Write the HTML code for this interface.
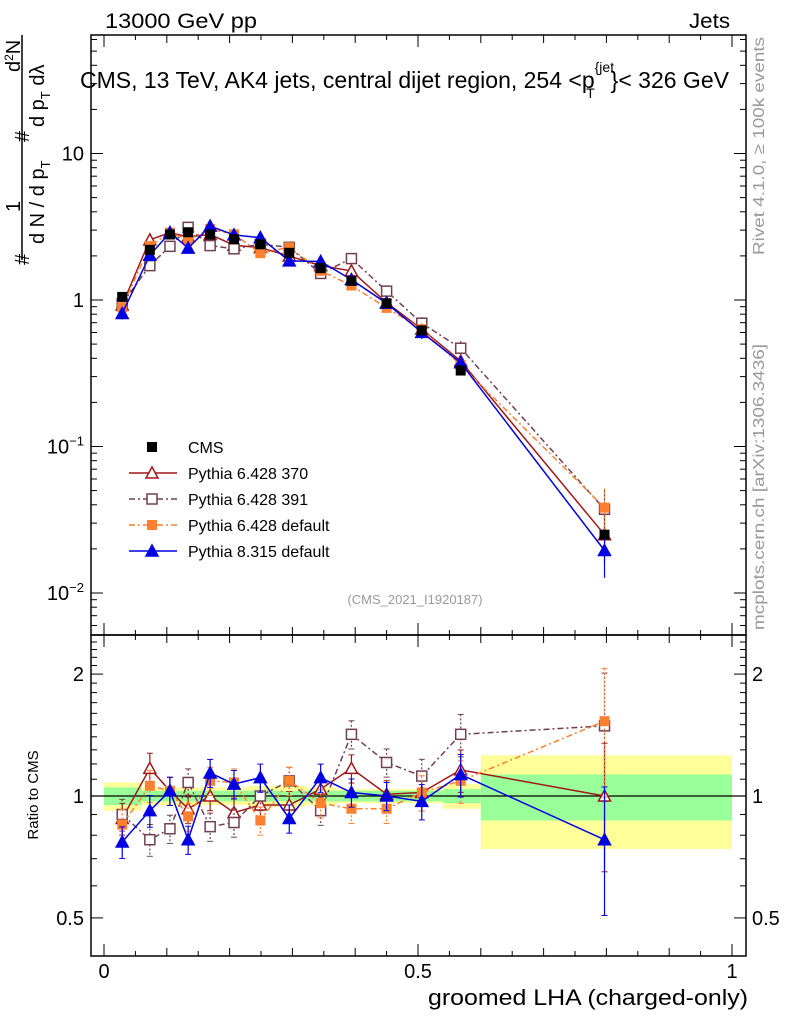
<!DOCTYPE html>
<html><head><meta charset="utf-8"><style>
body{margin:0;background:#fff;}
svg{display:block;font-family:"Liberation Sans",Arial,sans-serif;}
</style></head><body>
<svg id="chart" width="786" height="1024" viewBox="0 0 786 1024" xmlns="http://www.w3.org/2000/svg"></svg>
<script>
// ---- data ----
const binEdges = [0,0.06,0.09,0.12,0.15,0.19,0.23,0.27,0.32,0.37,0.42,0.48,0.54,0.6,1.0];
const binCenters = [0.029,0.073,0.105,0.134,0.169,0.207,0.249,0.295,0.345,0.394,0.45,0.506,0.568,0.797];
const cmsValues = [1.05,2.2,2.8,2.9,2.8,2.6,2.4,2.1,1.65,1.35,0.95,0.62,0.33,0.025];
const bandInner = [0.05,0.03,0.03,0.03,0.03,0.03,0.03,0.03,0.03,0.03,0.03,0.03,0.04,0.13];
const bandOuter = [0.08,0.05,0.05,0.05,0.05,0.05,0.06,0.06,0.05,0.04,0.04,0.04,0.07,0.26];
const ratio370 = [0.88,1.17,1.03,0.93,1.0,0.91,0.95,0.95,1.04,1.17,1.01,1.02,1.16,1.0];
const ratio391 = [0.9,0.78,0.83,1.08,0.84,0.86,1.0,1.09,0.92,1.42,1.21,1.12,1.42,1.49];
const ratioP6 = [0.85,1.06,1.03,0.89,1.09,1.08,0.87,1.09,0.96,0.93,0.93,1.02,1.09,1.53];
const ratioP8 = [0.77,0.92,1.03,0.78,1.14,1.07,1.11,0.88,1.11,1.02,1.0,0.97,1.13,0.78];
const ratioErr = [0.09,0.09,0.08,0.08,0.08,0.08,0.08,0.08,0.08,0.08,0.08,0.1,0.12,0.35];
const xTicks = [0,0.5,1];
const xTickLabels = ["0","0.5","1"];
const ratioTicks = [0.5,1,2];
const ratioTickLabels = ["0.5","1","2"];

// ---- axes ----
const X0=104, X1=732;
const xs = v => X0 + (X1-X0)*v;
const ym = v => 300 - 146.5*Math.log10(v);
const yr = v => 796 - 405*Math.log10(v);
const NS="http://www.w3.org/2000/svg";
const svg=document.getElementById('chart');
function mk(tag, attrs, parent){const e=document.createElementNS(NS,tag);for(const k in attrs)e.setAttribute(k,attrs[k]);(parent||svg).appendChild(e);return e;}

const series=[
 {key:'p370',r:ratio370,color:'#a01818',dash:'',marker:'tri-open',name:'pythia-6-428-370'},
 {key:'p391',r:ratio391,color:'#704050',dash:'6,3,2,3',marker:'sq-open',name:'pythia-6-428-391'},
 {key:'p6',r:ratioP6,color:'#ff8030',dash:'6,3,2,3',marker:'sq-fill',name:'pythia-6-428-default'},
 {key:'p8',r:ratioP8,color:'#0000e0',dash:'',marker:'tri-fill',name:'pythia-8-315-default'}
];

function marker(kind,x,y,color,g){
 let e;
 if(kind==='tri-open'||kind==='tri-fill'){
  e=mk('polygon',{points:`${x},${y-6} ${x-6},${y+5} ${x+6},${y+5}`,fill:kind==='tri-fill'?color:'#fff','stroke':color,'stroke-width':1.5},g);
 } else if(kind==='sq-open'){
  e=mk('rect',{x:x-5,y:y-5,width:10,height:10,fill:'#fff',stroke:color,'stroke-width':1.5},g);
 } else if(kind==='sq-fill'){
  e=mk('rect',{x:x-5,y:y-5,width:10,height:10,fill:color},g);
 } else {
  e=mk('rect',{x:x-5,y:y-5,width:10,height:10,fill:'#000'},g);
 }
 return e;
}

// ---- main panel ----
const frameMain=mk('rect',{x:91,y:35,width:655,height:600,fill:'none',stroke:'#000','stroke-width':1.5});


for(let d=-3;d<=1;d++){for(let m=1;m<10;m++){const v=m*Math.pow(10,d);const y=ym(v);if(y<35||y>635)continue;const L=m===1?12:6;
 mk('line',{x1:91,x2:91+L,y1:y,y2:y,stroke:'#000'});mk('line',{x1:746-L,x2:746,y1:y,y2:y,stroke:'#000'});}}
const mainLabels=[[10,'10'],[1,'1']];
mainLabels.forEach(([v,t])=>{const e=mk('text',{x:84,y:ym(v)+7,'text-anchor':'end','font-size':20});e.textContent=t;
 });
[[0.1,'-1'],[0.01,'-2']].forEach(([v,p])=>{const e=mk('text',{x:84,y:ym(v)+7,'text-anchor':'end','font-size':20});
 e.innerHTML='10<tspan dy="-8" font-size="13">−'+p.slice(1)+'</tspan>';
 });
function xTickMarks(top,bot){for(let i=0;i<=20;i++){const v=i/20;const x=xs(v);const L=(i%10===0)?12:(i%2===0?8:5);
 mk('line',{x1:x,x2:x,y1:bot,y2:bot-L,stroke:'#000'});mk('line',{x1:x,x2:x,y1:top,y2:top+L,stroke:'#000'});}}
xTickMarks(35,635);

series.forEach(s=>{
 const g=mk('g',{});
 
 
 const vals=s.r.map((r,i)=>r*cmsValues[i]);
 const pts=vals.map((v,i)=>xs(binCenters[i])+','+ym(v)).join(' ');
 mk('polyline',{points:pts,fill:'none',stroke:s.color,'stroke-width':1.5,'stroke-dasharray':s.dash},g);
 vals.forEach((v,i)=>{const x=xs(binCenters[i]);const e=ratioErr[i]*v;
  mk('line',{x1:x,x2:x,y1:ym(v+e),y2:ym(Math.max(v-e,v*0.3)),stroke:s.color,'stroke-width':1.2,'stroke-dasharray':s.dash?'2,2':''},g);
  const m=marker(s.marker,x,ym(v),s.color,g);
  
  
 });
});
const cmsG=mk('g',{});


cmsValues.forEach((v,i)=>{const m=marker('cms',xs(binCenters[i]),ym(v),'#000',cmsG);
 
 });

// ---- ratio panel ----
const bandG=mk('g',{});


binCenters.forEach((c,i)=>{const xa=xs(binEdges[i]),xb=xs(binEdges[i+1]);
 mk('rect',{x:xa,y:yr(1+bandOuter[i]),width:xb-xa,height:yr(1-bandOuter[i])-yr(1+bandOuter[i]),fill:'#ffff99'},bandG);
 mk('rect',{x:xa,y:yr(1+bandInner[i]),width:xb-xa,height:yr(1-bandInner[i])-yr(1+bandInner[i]),fill:'#99ff99'},bandG);});
mk('line',{x1:91,x2:746,y1:yr(1),y2:yr(1),stroke:'#000','stroke-width':1.2});
const frameR=mk('rect',{x:91,y:635,width:655,height:321,fill:'none',stroke:'#000','stroke-width':1.5});


xTickMarks(635,956);
for(let v=0.4;v<=2.6;v+=0.1){const vv=Math.round(v*10)/10;const y=yr(vv);if(y<636||y>955)continue;
 const big=ratioTicks.includes(vv);const L=big?12:6;
 mk('line',{x1:91,x2:91+L,y1:y,y2:y,stroke:'#000'});mk('line',{x1:746-L,x2:746,y1:y,y2:y,stroke:'#000'});}
ratioTicks.forEach((v,i)=>{
 const a=mk('text',{x:84,y:yr(v)+7,'text-anchor':'end','font-size':20});a.textContent=ratioTickLabels[i];
 
 const b=mk('text',{x:752,y:yr(v)+7,'font-size':20});b.textContent=ratioTickLabels[i];
 });
series.forEach(s=>{
 const g=mk('g',{});
 
 
 const pts=s.r.map((r,i)=>xs(binCenters[i])+','+yr(r)).join(' ');
 mk('polyline',{points:pts,fill:'none',stroke:s.color,'stroke-width':1.5,'stroke-dasharray':s.dash},g);
 s.r.forEach((r,i)=>{const x=xs(binCenters[i]);const e=ratioErr[i]*r;
  mk('line',{x1:x,x2:x,y1:yr(r+e),y2:yr(Math.max(r-e,0.3)),stroke:s.color,'stroke-width':1.2,'stroke-dasharray':s.dash?'2,2':''},g);
  mk('line',{x1:x-3,x2:x+3,y1:yr(r+e),y2:yr(r+e),stroke:s.color},g);
  mk('line',{x1:x-3,x2:x+3,y1:yr(r-e),y2:yr(r-e),stroke:s.color},g);
  const m=marker(s.marker,x,yr(r),s.color,g);
  
  
 });
});
xTicks.forEach((v,i)=>{const e=mk('text',{x:xs(v),y:978,'text-anchor':'middle','font-size':20});e.textContent=xTickLabels[i];
 });

// ---- legend ----
const leg=[['cms','#000','','CMS','cms'],...series.map(s=>[s.marker,s.color,s.dash,null,s.name])];
const legNames=['CMS','Pythia 6.428 370','Pythia 6.428 391','Pythia 6.428 default','Pythia 8.315 default'];
const lg=mk('g',{});


leg.forEach((l,i)=>{const y=447+26*i;const g=mk('g',{},lg);
 
 
 if(i>0)mk('line',{x1:129,x2:177,y1:y,y2:y,stroke:l[1],'stroke-width':1.5,'stroke-dasharray':l[2]},g);
 marker(l[0],152,y,l[1],g);
 const t=mk('text',{x:188,y:y+6,'font-size':16},g);t.textContent=legNames[i];});
</script>
<svg width="786" height="1024" style="position:absolute;left:0;top:0;font-family:'Liberation Sans',Arial,sans-serif;">
<text x="105" y="28" font-size="21" textLength="152" lengthAdjust="spacingAndGlyphs">13000 GeV pp</text>
<text x="689" y="28" font-size="21" textLength="41" lengthAdjust="spacingAndGlyphs">Jets</text>
<text x="80" y="88" font-size="23">CMS, 13 TeV, AK4 jets, central dijet region, 254 &lt;p<tspan dy="-16" font-size="14">{jet</tspan><tspan dy="26" dx="-28" font-size="14">T</tspan><tspan dy="-10" dx="16">}&lt; 326 GeV</tspan></text>
<text x="415" y="604" font-size="13" fill="#999" text-anchor="middle">(CMS_2021_I1920187)</text>
<g font-size="20">
<line x1="22" y1="35" x2="22" y2="260" stroke="#000" stroke-width="1.5"/>
<text transform="translate(20,72) rotate(-90)">d<tspan dy="-7" font-size="12">2</tspan><tspan dy="7">N</tspan></text>
<text transform="translate(20,212) rotate(-90)">1</text>
<text transform="translate(29,265) rotate(-90)">#</text>
<text transform="translate(29,142) rotate(-90)">#</text>
<text transform="translate(44,244) rotate(-90)">d N / d p<tspan dy="6" font-size="13">T</tspan></text>
<text transform="translate(44,127) rotate(-90)">d p<tspan dy="6" font-size="13">T</tspan><tspan dy="-6"> d</tspan>λ</text>
</g>
<text transform="translate(38,795) rotate(-90)" font-size="15" text-anchor="middle">Ratio to CMS</text>
<text x="428" y="1005" font-size="22" textLength="320" lengthAdjust="spacingAndGlyphs">groomed LHA (charged-only)</text>
<text transform="translate(764,255) rotate(-90)" font-size="16" fill="#999" textLength="218" lengthAdjust="spacingAndGlyphs">Rivet 4.1.0, ≥ 100k events</text>
<text transform="translate(764,630) rotate(-90)" font-size="16" fill="#999" textLength="286" lengthAdjust="spacingAndGlyphs">mcplots.cern.ch [arXiv:1306.3436]</text>
</svg>
</body></html>
